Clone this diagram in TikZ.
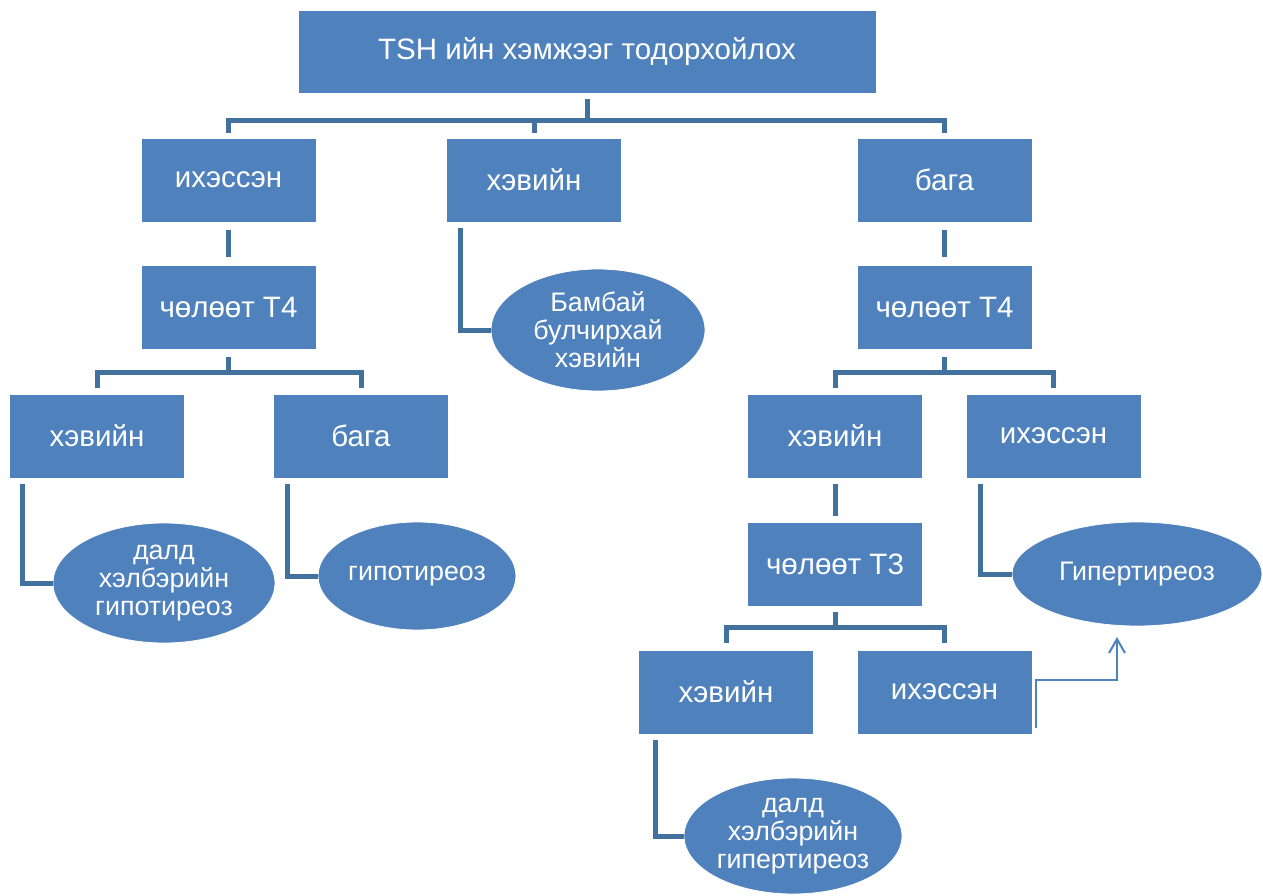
\documentclass[tikz,border=0pt]{standalone}
\usepackage{fontspec}
\setmainfont{Liberation Sans}
\usetikzlibrary{shapes.geometric,arrows.meta}
\definecolor{boxblue}{HTML}{4F81BD}
\definecolor{linkblue}{HTML}{41719C}
\tikzset{
  box/.style={rectangle, fill=boxblue, draw=white, line width=0.8pt, minimum width=175pt, minimum height=84pt, inner sep=0pt, text=white, font=\fontsize{29.5}{34}\selectfont},
  oval/.style={ellipse, fill=boxblue, draw=white, line width=0.8pt, inner sep=0pt, text=white, align=center, font=\fontsize{26.8}{28}\selectfont},
  conn/.style={draw=linkblue, line width=5pt},
  arr/.style={draw=boxblue, line width=2pt, -{Straight Barb[length=14pt,width=16pt,line width=2pt]}}
}
\begin{document}
\begin{tikzpicture}[x=1pt,y=-1pt]
\fill[white] (0,0) rectangle (1263,896);
\useasboundingbox (0,0) rectangle (1263,896);
% nodes
\node[box, minimum width=578pt, minimum height=83pt] (t) at (587,51.5) {TSH ийн хэмжээг тодорхойлох};
\node[box] (a1) at (228.5,180) {ихэссэн};
\node[box] (a2) at (534,180) {хэвийн};
\node[box] (a3) at (944.5,180) {бага};
\node[box] (l1) at (228.5,307.5) {чөлөөт T4};
\node[box] (r1) at (944.5,307.5) {чөлөөт T4};
\node[box] (l2) at (97,436) {хэвийн};
\node[box] (l3) at (361,436) {бага};
\node[box] (r2) at (835,436) {хэвийн};
\node[box] (r3) at (1053.5,436) {ихэссэн};
\node[box] (r4) at (835,564) {чөлөөт T3};
\node[box] (c1) at (726,692) {хэвийн};
\node[box] (c2) at (944.5,692) {ихэссэн};
\node[oval, minimum width=214pt, minimum height=122pt] (em) at (598,330) {Бамбай\\булчирхай\\хэвийн};
\node[oval, minimum width=222pt, minimum height=120pt] (e1) at (164,583) {далд\\хэлбэрийн\\гипотиреоз};
\node[oval, minimum width=198pt, minimum height=108pt] (e2) at (417,576) {гипотиреоз};
\node[oval, minimum width=250pt, minimum height=104pt] (e3) at (1137,574) {Гипертиреоз};
\node[oval, minimum width=218pt, minimum height=116pt] (e4) at (793,836) {далд\\хэлбэрийн\\гипертиреоз};
% tree connectors
\draw[conn] ([yshift=-6pt]t.south) -- ([yshift=-27pt]t.south);
\draw[conn] ([yshift=5pt]a1.north) |- ([yshift=-27pt]t.south) -| ([yshift=5pt]a3.north);
\draw[conn] ([yshift=5pt]a2.north) -- ([yshift=-27pt]a2.north |- t.south);
\draw[conn] ([yshift=-8pt]a1.south) -- ([yshift=8pt]l1.north);
\draw[conn] ([yshift=-8pt]a3.south) -- ([yshift=8pt]r1.north);
\draw[conn] ([yshift=-7pt]l1.south) -- ([yshift=-23pt]l1.south);
\draw[conn] ([yshift=6pt]l2.north) |- ([yshift=-23pt]l1.south) -| ([yshift=6pt]l3.north);
\draw[conn] ([yshift=-7pt]r1.south) -- ([yshift=-23pt]r1.south);
\draw[conn] ([yshift=6pt]r2.north) |- ([yshift=-23pt]r1.south) -| ([yshift=6pt]r3.north);
\draw[conn] ([yshift=-6pt]r2.south) -- ([yshift=6pt]r4.north);
\draw[conn] ([yshift=-6pt]r4.south) -- ([yshift=-21pt]r4.south);
\draw[conn] ([yshift=7pt]c1.north) |- ([yshift=-21pt]r4.south) -| ([yshift=7pt]c2.north);
% elbow connectors to ovals
\draw[conn] ([xshift=14pt,yshift=-6pt]a2.south west) |- (em.west);
\draw[conn] ([xshift=13pt,yshift=-6pt]l2.south west) |- (e1.west);
\draw[conn] ([xshift=14pt,yshift=-6pt]l3.south west) |- (e2.west);
\draw[conn] ([xshift=15pt,yshift=-6pt]r3.south west) |- (e3.west);
\draw[conn] ([xshift=17pt,yshift=-6pt]c1.south west) |- (e4.west);
% arrow
\coordinate (abend) at (1117,680);
\coordinate (atip) at (1117,637);
\draw[arr] ([xshift=4pt,yshift=6pt]c2.south east) |- (abend) -- (atip);
\end{tikzpicture}
\end{document}
